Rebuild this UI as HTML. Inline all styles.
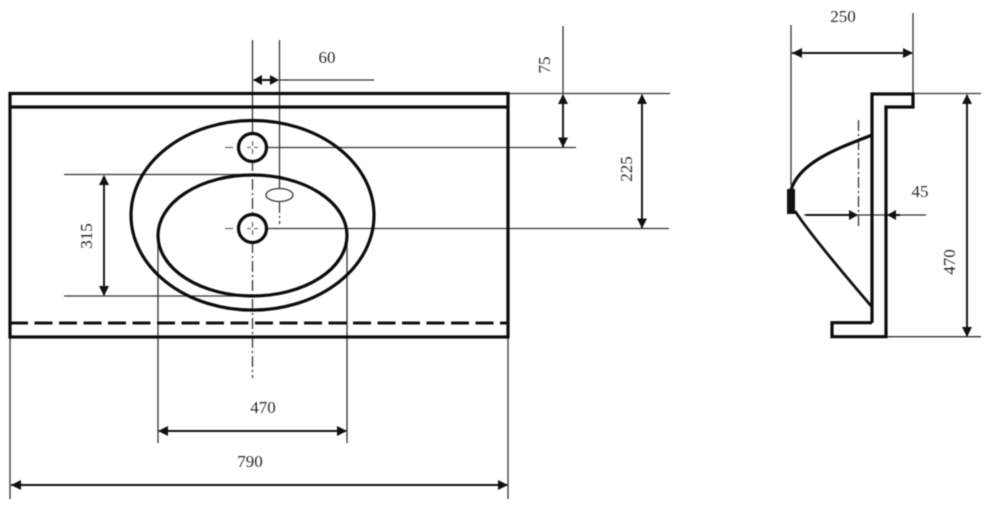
<!DOCTYPE html>
<html><head><meta charset="utf-8"><style>
html,body{margin:0;padding:0;background:#fff;width:1000px;height:522px;overflow:hidden}
svg{display:block;filter:blur(.45px)}
text{font-family:"Liberation Serif",serif;font-size:17px;fill:#2a2a2a;text-anchor:middle}
.h{fill:none;stroke:#0c0c0c;stroke-width:3.2}
.t{fill:none;stroke:#333;stroke-width:1.3}
.d{fill:none;stroke:#111;stroke-width:1.9}
.a{fill:#111}
.c{fill:none;stroke:#333;stroke-width:1.3;stroke-dasharray:11 3 2 3}
</style></head><body>
<svg width="1000" height="522" viewBox="0 0 1000 522" xmlns="http://www.w3.org/2000/svg">
<!-- thin extension lines -->
<path class="t" d="M252.500 40V135M279.500 40V188M279.500 80H374M508 93.500H670M563 26V93.500M266 147.500H576M266 228.500H669M64 174.500H252M64 296H252M158 235V443M347 235V443M10 337V499M508 337V499M791 25V185M913 13V94M913 93.500H981M886 336.700H981M804 215H926"/>
<path class="c" d="M252.500 160V215M252.500 242V378"/>
<path class="c" d="M279.500 202V224"/>
<path class="c" d="M858.500 120V229"/>
<path class="t" d="M225 147.500H233M225 228.500H233M247 147.500H251M254 147.500H258M247 228.500H251M254 228.500H258M252.500 141V146M252.500 149V154M252.500 222V227M252.500 230V235" opacity=".7"/>
<!-- countertop -->
<rect class="h" x="10" y="93.500" width="498" height="243.500"/>
<path class="h" d="M10 107H508"/>
<path d="M10 323H508" fill="none" stroke="#111" stroke-width="3" stroke-dasharray="18 6.500"/>
<!-- basin -->
<ellipse class="h" cx="252.500" cy="215.300" rx="121.500" ry="94.800"/>
<ellipse class="h" cx="252.500" cy="235.500" rx="94.500" ry="60.500"/>
<circle class="h" cx="252.500" cy="147.500" r="14"/>
<circle class="h" cx="252.500" cy="228.500" r="14"/>
<ellipse cx="279.500" cy="195" rx="13.500" ry="6.500" fill="#fff" stroke="#333" stroke-width="1.300"/>
<!-- dimension lines -->
<path class="d" d="M254 80H278M563 95V147M642 95V228M104 176V295M159 431H346M11 485H507M792 53H912M967 95V336M806 215H857M888 215H900"/>
<!-- arrowheads -->
<path class="a" d="M253 80l9-5v10zM279 80l-9-5v10zM563 94l-5 10h10zM563 147.500l-5-10h10zM642 94l-5 10h10zM642 228.500l-5-10h10zM104 175l-5 10h10zM104 296l-5-10h10zM158 431l10-5v10zM347 431l-10-5v10zM11 485l10-5v10zM508 485l-10-5v10zM792 53l10-5v10zM913 53l-10-5v10zM967 94l-5 10h10zM967 337l-5-10h10zM858 215l-9-5v10zM887 215l9-5v10z"/>
<!-- side profile -->
<path class="h" d="M872 322.700V94H913V107H886V336.700H832V322.700H872"/>
<path class="h" d="M872 135C845 146 800 160 791 190"/>
<path d="M795 211C806 228 830 258 872 307" fill="none" stroke="#111" stroke-width="2.800"/>
<rect x="787" y="189" width="8" height="25" fill="#111"/>
<!-- labels -->
<text x="327" y="63">60</text>
<text transform="translate(550,65) rotate(-90)">75</text>
<text transform="translate(632,169) rotate(-90)">225</text>
<text transform="translate(92,236) rotate(-90)">315</text>
<text x="263" y="413">470</text>
<text x="250" y="467">790</text>
<text x="843" y="22">250</text>
<text x="920" y="197">45</text>
<text transform="translate(955,262) rotate(-90)">470</text>
</svg>
</body></html>
